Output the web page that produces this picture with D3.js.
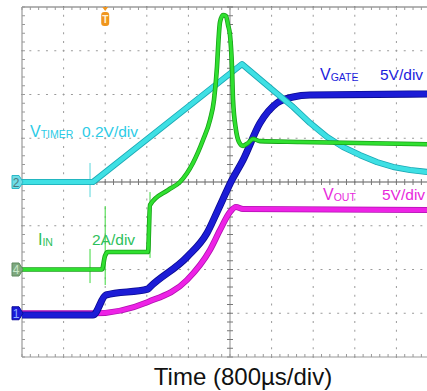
<!DOCTYPE html>
<html><head><meta charset="utf-8">
<script src="https://cdn.jsdelivr.net/npm/d3@7"></script>
<style>
html,body{margin:0;padding:0;background:#fff;}
svg{display:block;font-family:"Liberation Sans",Arial,Helvetica,sans-serif;}
</style>
</head><body>
<svg id="scope" width="427" height="391"></svg>
<script>
// Horizontal: 10 divisions of 800 µs (time in ms); vertical: 8 divisions
const timeDivs = 10;
const msPerDiv = 0.8;
const voltDivs = 8;
const triggerT = 1.6;

// Ch2 V_TIMER, volts
const timerT = [0, 1.365, 4.231, 4.898, 5.212, 5.538, 5.865, 6.173, 6.5, 6.827, 7.135, 7.462, 7.788, 8.0];
const timerV = [0, 0, 0.539, 0.405, 0.343, 0.270, 0.206, 0.160, 0.123, 0.091, 0.069, 0.055, 0.046, 0.042];

// Ch4 I_IN, amps
const iinT = [0, 1.538, 1.596, 1.654, 2.423, 2.462, 2.808, 3.038, 3.288, 3.481, 3.615, 3.692, 3.75, 3.779, 3.808, 3.865, 3.923, 3.962, 4.0, 4.038, 4.058, 4.115, 4.173, 4.25, 4.346, 4.442, 4.577, 5.346, 8.0];
const iinA = [0, 0, 0.62, 0.80, 0.80, 2.95, 3.63, 4.00, 4.87, 5.92, 6.83, 7.75, 9.26, 10.49, 11.31, 11.63, 11.59, 11.18, 10.72, 9.26, 7.75, 6.38, 5.83, 5.65, 5.78, 5.97, 5.87, 5.83, 5.72];

// Ch1 V_GATE, volts
const gateT = [0, 1.365, 1.615, 2.423, 2.462, 3.173, 3.558, 3.769, 4.038, 4.25, 4.577, 4.904, 5.212, 5.538, 8.0];
const gateV = [-0.2, -0.2, 2.09, 2.77, 3.0, 6.43, 9.17, 11.8, 15.23, 17.51, 21.74, 24.03, 24.71, 24.94, 25.06];

// Ch3 V_OUT, volts
const voutT = [0, 1.404, 2.423, 3.173, 3.615, 3.808, 4.0, 4.115, 4.25, 8.0];
const voutV = [0, 0, 1.29, 3.8, 7.23, 9.51, 11.57, 12.14, 11.91, 11.8];

// Switching glitches: [time ms, low, high]
const timerSpikes = [[1.308, -0.069, 0.087]];
const iinSpikes = [[1.308, -0.62, 0.94], [1.6, -0.71, 2.9], [2.462, 0.53, 3.54]];

const svg = d3.select("#scope");
const gLeft = 22, gTop = 7, gBottom = 357;
const divW = 41.6;
const gRight = gLeft + timeDivs * divW;

const x = d3.scaleLinear().domain([0, timeDivs * msPerDiv]).range([gLeft, gRight]);
const xDiv = d3.scaleLinear().domain([0, timeDivs]).range([gLeft, gRight]);
const yDiv = d3.scaleLinear().domain([-voltDivs / 2, voltDivs / 2]).range([gBottom, gTop]);

// channel ground offset (div) and scale (units/div)
const channels = {
  timer: {offset: 0, perDiv: 0.2},
  iin: {offset: -2, perDiv: 2},
  gate: {offset: -3, perDiv: 5},
  vout: {offset: -3, perDiv: 5}
};
const yOf = ch => v => yDiv(channels[ch].offset + v / channels[ch].perDiv);

// ---- graticule ----
const g = svg.append("g");
const sub = d3.range(0, 5 * timeDivs + 1).map(i => i / 5);
const subY = d3.range(0, 5 * voltDivs + 1).map(i => i / 5 - voltDivs / 2);

// dotted division lines
d3.range(1, timeDivs).filter(i => i !== 5).forEach(i => {
  g.selectAll(null).data(subY).join("rect")
    .attr("x", xDiv(i) - 0.5).attr("y", d => yDiv(d) - 1)
    .attr("width", 1).attr("height", 2).attr("fill", "#9a9a9a");
});
d3.range(-3, 4).filter(j => j !== 0).forEach(j => {
  g.selectAll(null).data(sub).join("rect")
    .attr("x", d => xDiv(d) - 1).attr("y", yDiv(j) - 0.5)
    .attr("width", 2).attr("height", 1).attr("fill", "#9a9a9a");
});

// centre axes with ticks
g.append("line").attr("x1", gLeft).attr("x2", gRight).attr("y1", yDiv(0)).attr("y2", yDiv(0))
  .attr("stroke", "#5a5a5a").attr("stroke-width", 1.2);
g.append("line").attr("x1", xDiv(5)).attr("x2", xDiv(5)).attr("y1", gTop).attr("y2", gBottom)
  .attr("stroke", "#a0a0a0").attr("stroke-width", 1.2);
g.selectAll(null).data(sub).join("line")
  .attr("x1", d => xDiv(d)).attr("x2", d => xDiv(d))
  .attr("y1", yDiv(0) - 3).attr("y2", yDiv(0) + 3).attr("stroke", "#777");
g.selectAll(null).data(subY).join("line")
  .attr("x1", xDiv(5) - 3).attr("x2", xDiv(5) + 3)
  .attr("y1", d => yDiv(d)).attr("y2", d => yDiv(d)).attr("stroke", "#777");

// frame with inward ticks
g.append("line").attr("x1", gLeft).attr("x2", gRight).attr("y1", gTop).attr("y2", gTop).attr("stroke", "#6a6a6a").attr("stroke-width", 1.2);
g.append("line").attr("x1", gLeft).attr("x2", gRight).attr("y1", gBottom).attr("y2", gBottom).attr("stroke", "#999").attr("stroke-width", 1.2);
g.append("line").attr("x1", gLeft).attr("x2", gLeft).attr("y1", gTop).attr("y2", gBottom).attr("stroke", "#999").attr("stroke-width", 1.2);
g.selectAll(null).data(sub).join("line")
  .attr("x1", d => xDiv(d)).attr("x2", d => xDiv(d)).attr("y1", gTop).attr("y2", gTop + 3).attr("stroke", "#999");
g.selectAll(null).data(sub).join("line")
  .attr("x1", d => xDiv(d)).attr("x2", d => xDiv(d)).attr("y1", gBottom - 3).attr("y2", gBottom).attr("stroke", "#999");
g.selectAll(null).data(subY).join("line")
  .attr("x1", gLeft).attr("x2", gLeft + 3).attr("y1", d => yDiv(d)).attr("y2", d => yDiv(d)).attr("stroke", "#999");

// ---- traces ----
const traces = svg.append("g");
function trace(ch, ts, vs, core, edge, w, curve) {
  const pts = ts.map((t, i) => [t, vs[i]]);
  const line = d3.line().x(d => x(d[0])).y(d => yOf(ch)(d[1])).curve(curve);
  traces.append("path").attr("d", line(pts)).attr("fill", "none")
    .attr("stroke", edge).attr("stroke-width", w + 1.6).attr("stroke-linejoin", "round");
  traces.append("path").attr("d", line(pts)).attr("fill", "none")
    .attr("stroke", core).attr("stroke-width", w).attr("stroke-linejoin", "round");
}
function spikes(ch, list, color) {
  traces.selectAll(null).data(list).join("line")
    .attr("x1", d => x(d[0])).attr("x2", d => x(d[0]))
    .attr("y1", d => yOf(ch)(d[1])).attr("y2", d => yOf(ch)(d[2]))
    .attr("stroke", color).attr("stroke-width", 1);
}

spikes("timer", timerSpikes, "#5ad6dc");
spikes("iin", iinSpikes, "#3cd83c");
trace("vout", voutT, voutV, "#ee22e6", "#b010b0", 4.5, d3.curveMonotoneX);
trace("gate", gateT, gateV, "#1c1cd6", "#0a0a90", 5.5, d3.curveMonotoneX);
trace("timer", timerT, timerV, "#3ee0e4", "#1aa8b4", 4.5, d3.curveLinear);
trace("iin", iinT, iinA, "#30e030", "#18a018", 3, d3.curveMonotoneX);

// ---- channel ground markers ----
function marker(ch, label, fill, stroke, txt) {
  const y0 = yOf(ch)(0);
  const m = svg.append("g").attr("transform", `translate(0,${y0})`);
  m.append("path").attr("d", "M12,-6.5 H19 L23,0 L19,6.5 H12 Z")
    .attr("fill", fill).attr("stroke", stroke).attr("stroke-width", 1);
  m.append("text").attr("x", 16).attr("y", 4.5).attr("text-anchor", "middle")
    .attr("font-size", 12).attr("fill", txt).text(label);
}
marker("timer", "2", "#6fdde6", "#2bb8c6", "#4a7a80");
marker("iin", "4", "#7fa87f", "#5e8a5e", "#c8e8c8");
marker("gate", "1", "#1a1ad8", "#0c0c9a", "#8fb0ff");

// trigger position marker
const tx = x(triggerT);
const trig = svg.append("g");
trig.append("path").attr("d", `M${tx - 3},7 L${tx + 3},7 L${tx},11 Z`).attr("fill", "#f0961e");
trig.append("rect").attr("x", tx - 4).attr("y", 12).attr("width", 8).attr("height", 14).attr("rx", 3)
  .attr("fill", "#f0961e");
trig.append("text").attr("x", tx).attr("y", 23).attr("text-anchor", "middle")
  .attr("font-size", 10).attr("font-weight", "bold").attr("fill", "#fff2d8").text("T");

// ---- labels ----
function label(xp, yp, main, subs, color, scaleTxt, xs) {
  const t = svg.append("text").attr("x", xp).attr("y", yp).attr("font-size", 16).attr("fill", color);
  t.append("tspan").text(main);
  t.append("tspan").attr("font-size", 10.5).attr("dy", 1).text(subs);
  svg.append("text").attr("x", xs).attr("y", yp).attr("font-size", 15.5).attr("fill", color).text(scaleTxt);
}
label(30, 137, "V", "TIMER", "#2ccbe6", "0.2V/div", 82);
label(320, 80, "V", "GATE", "#1c1cdc", "5V/div", 380);
label(323, 200, "V", "OUT", "#e828dc", "5V/div", 382);
label(38, 245, "I", "IN", "#2cc05a", "2A/div", 92);

svg.append("text").attr("x", 243).attr("y", 385).attr("text-anchor", "middle")
  .attr("font-size", 24).attr("fill", "#111").text("Time (800µs/div)");
</script>
</body></html>
